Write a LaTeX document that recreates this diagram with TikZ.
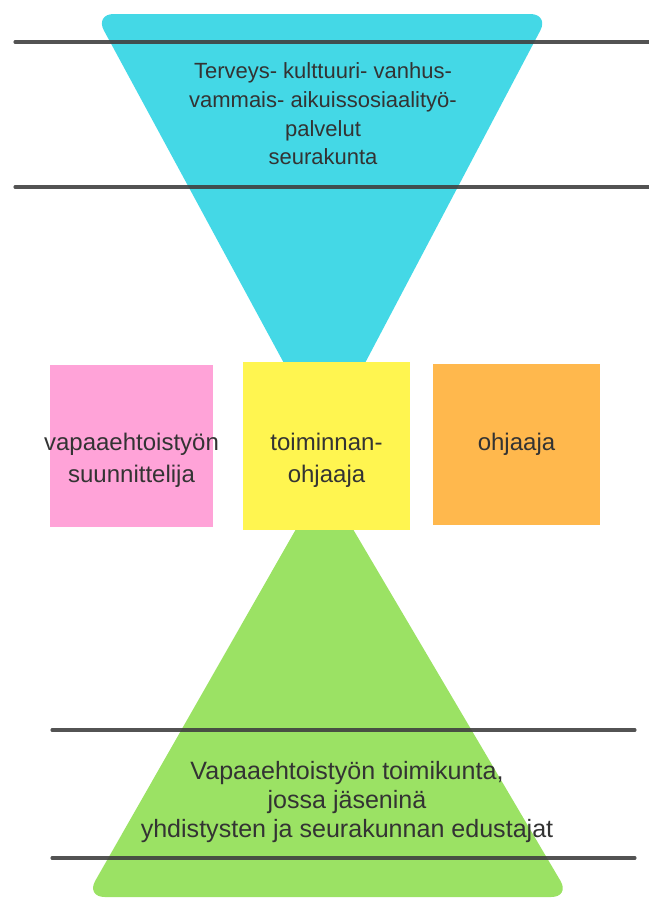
\documentclass[tikz,border=0pt]{standalone}
\usepackage{fontspec}
\setmainfont{Liberation Sans}
\usetikzlibrary{positioning}
\definecolor{suppilosini}{RGB}{68,216,230}
\definecolor{kolmiovihrea}{RGB}{155,226,100}
\definecolor{pinkki}{RGB}{255,163,216}
\definecolor{keltainen}{RGB}{255,245,80}
\definecolor{oranssi}{RGB}{255,184,77}

\begin{document}
\begin{tikzpicture}[x=0.75pt,y=-0.75pt,
  ruutu/.style={rectangle,minimum width=121pt,minimum height=121pt,inner sep=0pt},
  teksti/.style={align=center,text=black!80,font=\fontsize{18}{24}\selectfont},
  viiva/.style={line width=2.3pt,draw=black!75,line cap=round,opacity=0.9}]
\useasboundingbox (0,0) rectangle (649,901);
% suppilot
\fill[suppilosini,rounded corners=14pt] (325,439) -- (549,14) -- (95,14) -- cycle;
\fill[kolmiovihrea,rounded corners=14pt] (324,480) -- (570,897) -- (86,897) -- cycle;
% vaakaviivat
\coordinate (v1a) at (15,42);  \coordinate (v1b) at (649,42);
\coordinate (v2a) at (15,187); \coordinate (v2b) at (649,187);
\coordinate (v3a) at (52,730); \coordinate (v3b) at (635,730);
\coordinate (v4a) at (52,858); \coordinate (v4b) at (635,858);
\draw[viiva] (v1a) -- (v1b);
\draw[viiva] (v2a) -- (v2b);
\draw[viiva] (v3a) -- (v3b);
\draw[viiva] (v4a) -- (v4b);
% ruudut
\node[ruutu,fill=pinkki,minimum width=122pt] (suunnittelija) at (131.5,446) {};
\node[ruutu,fill=keltainen,minimum width=125pt,minimum height=126pt] (toiminnanohjaaja) at (326.5,446) {};
\node[ruutu,fill=oranssi,minimum width=125pt] (ohjaaja) at (516.5,444.5) {};
\node[teksti] (suunnittelijateksti) at ([yshift=-11pt]suunnittelija.center) {vapaaehtoistyön\\suunnittelija};
\node[teksti] (toiminnanteksti) at ([yshift=-11pt]toiminnanohjaaja.center) {toiminnan-\\ohjaaja};
\node[teksti] (ohjaajateksti) at (ohjaaja.center) {ohjaaja};
% suppiloiden tekstit
\node[teksti,font=\fontsize{16.5}{21.5}\selectfont] (palvelut) at (323,114) {Terveys- kulttuuri- vanhus-\\vammais- aikuissosiaalityö-\\palvelut\\seurakunta};
\node[teksti,font=\fontsize{18.8}{22}\selectfont] (toimikunta) at (347,802) {Vapaaehtoistyön toimikunta,\\jossa jäseninä\\yhdistysten ja seurakunnan edustajat};
\end{tikzpicture}
\end{document}
